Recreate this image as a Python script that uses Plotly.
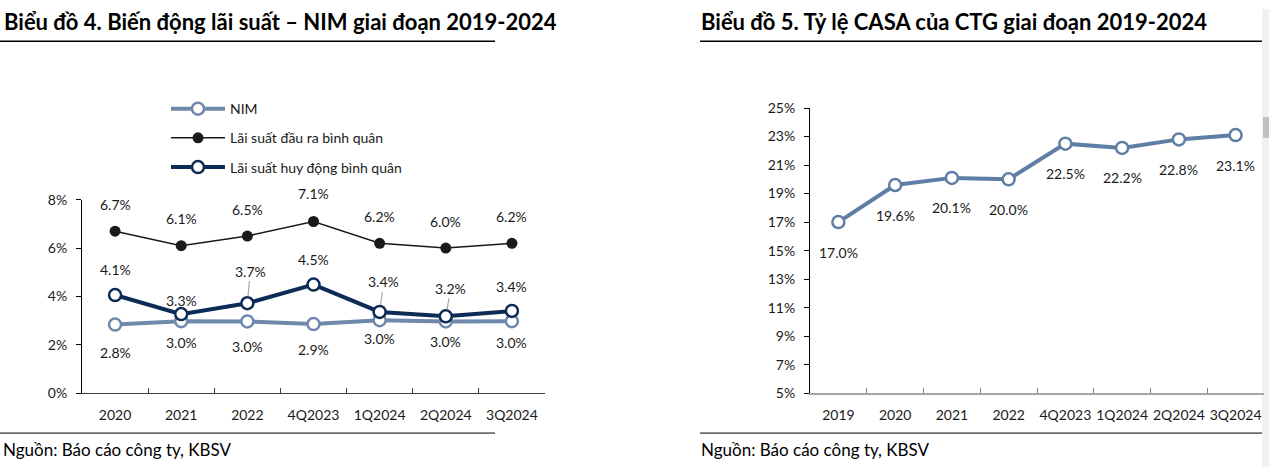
import plotly.graph_objects as go

W, H = 1269, 475

# ---------------- data ----------------
left_categories = ["2020", "2021", "2022", "4Q2023", "1Q2024", "2Q2024", "3Q2024"]
nim = [2.84, 2.98, 2.97, 2.86, 3.02, 2.97, 2.98]
lending_rate = [6.7, 6.1, 6.5, 7.1, 6.2, 6.0, 6.2]
deposit_rate = [4.06, 3.27, 3.72, 4.49, 3.36, 3.18, 3.40]

right_categories = ["2019", "2020", "2021", "2022", "4Q2023", "1Q2024", "2Q2024", "3Q2024"]
casa = [17.0, 19.6, 20.1, 20.0, 22.5, 22.2, 22.8, 23.1]

left_yticks = [0, 2, 4, 6, 8]
right_yticks = [5, 7, 9, 11, 13, 15, 17, 19, 21, 23, 25]

# label offsets (px, positive = up) – styling only
nim_dy = [-27, -21, -24, -25, -18, -19, -21]
lend_dy = [26, 26, 26, 27, 26, 26, 26]
dep_dy = [25, 13, 31, 24, 29, 27, 24]
dep_leader = [False, False, True, False, True, True, False]
dep_leader_dx = [0, 0, -3, 0, -4, -5, 0]

# ---------------- style ----------------
FONT = "Lato"
C_NIM = "#6f89ad"
C_LEND = "#1a1a1a"
C_DEP = "#0c2c55"
C_CASA = "#5f7ea5"
TXT = "#1a1a1a"

# vertical calibration of the captured page (observed: shown = 7.7 + 0.967 * figure px)
VS, VOFF = 0.967, 7.7


def X(px):
    return px / W


def Y(py):
    return 1 - ((py - VOFF) / VS) / H


def D(dy):
    return dy / VS


fig = go.Figure()

fig.add_trace(go.Scatter(
    x=left_categories, y=nim, name="NIM", mode="lines+markers",
    line=dict(color=C_NIM, width=4),
    marker=dict(size=12, color="white", line=dict(color=C_NIM, width=2.5)),
    xaxis="x", yaxis="y", legendgroup="a"))
fig.add_trace(go.Scatter(
    x=left_categories, y=lending_rate, name="Lãi suất đầu ra bình quân", mode="lines+markers",
    line=dict(color=C_LEND, width=1.5),
    marker=dict(size=11, color=C_LEND, line=dict(color=C_LEND, width=0)),
    xaxis="x", yaxis="y", legendgroup="b"))
fig.add_trace(go.Scatter(
    x=left_categories, y=deposit_rate, name="Lãi suất huy động bình quân", mode="lines+markers",
    line=dict(color=C_DEP, width=4),
    marker=dict(size=12, color="white", line=dict(color=C_DEP, width=2.5)),
    xaxis="x", yaxis="y", legendgroup="c"))

fig.add_trace(go.Scatter(
    x=right_categories, y=casa, name="CASA", mode="lines+markers",
    line=dict(color=C_CASA, width=4),
    marker=dict(size=12, color="white", line=dict(color=C_CASA, width=2.5)),
    xaxis="x2", yaxis="y2", showlegend=False))

annotations = []
lab_font = dict(family=FONT, size=14, color=TXT)

for i, (v, dy) in enumerate(zip(nim, nim_dy)):
    annotations.append(dict(x=i, y=v, xref="x", yref="y", text=f"{v:.1f}%",
                            showarrow=False, yshift=D(dy), font=lab_font))
for i, (v, dy) in enumerate(zip(lending_rate, lend_dy)):
    annotations.append(dict(x=i, y=v, xref="x", yref="y", text=f"{v:.1f}%",
                            showarrow=False, yshift=D(dy), font=lab_font))
for i, (v, dy, ld, ldx) in enumerate(zip(deposit_rate, dep_dy, dep_leader, dep_leader_dx)):
    if ld:
        annotations.append(dict(x=i, y=v, xref="x", yref="y", text=f"{v:.1f}%",
                                showarrow=True, arrowhead=0, arrowwidth=1.2,
                                arrowcolor="#a6a6a6", ax=-ldx, ay=-D(dy), standoff=7,
                                font=lab_font))
    else:
        annotations.append(dict(x=i, y=v, xref="x", yref="y", text=f"{v:.1f}%",
                                showarrow=False, yshift=D(dy), font=lab_font))
for i, v in enumerate(casa):
    annotations.append(dict(x=i, y=v, xref="x2", yref="y2", text=f"{v:.1f}%",
                            showarrow=False, yshift=D(-29), font=lab_font))

# titles & sources
annotations += [
    dict(x=X(2), y=Y(20), xref="paper", yref="paper", xanchor="left", yanchor="middle",
         text="<b>Biểu đồ 4. Biến động lãi suất – NIM giai đoạn 2019-2024</b>", showarrow=False,
         font=dict(family=FONT, size=22, color="#000000")),
    dict(x=X(699), y=Y(20), xref="paper", yref="paper", xanchor="left", yanchor="middle",
         text="<b>Biểu đồ 5. Tỷ lệ CASA của CTG giai đoạn 2019-2024</b>", showarrow=False,
         font=dict(family=FONT, size=22, color="#000000")),
    dict(x=X(1), y=Y(449), xref="paper", yref="paper", xanchor="left", yanchor="middle",
         text="Nguồn: Báo cáo công ty, KBSV", showarrow=False,
         font=dict(family=FONT, size=17, color="#000000")),
    dict(x=X(699), y=Y(449), xref="paper", yref="paper", xanchor="left", yanchor="middle",
         text="Nguồn: Báo cáo công ty, KBSV", showarrow=False,
         font=dict(family=FONT, size=17, color="#000000")),
]

shapes = [
    dict(type="line", xref="paper", yref="paper", x0=X(0), x1=X(495), y0=Y(40), y1=Y(40),
         line=dict(color="#000000", width=1.5)),
    dict(type="line", xref="paper", yref="paper", x0=X(700), x1=X(1262), y0=Y(40), y1=Y(40),
         line=dict(color="#000000", width=1.5)),
    dict(type="line", xref="paper", yref="paper", x0=X(0), x1=X(495), y0=Y(433), y1=Y(433),
         line=dict(color="#000000", width=1)),
    dict(type="line", xref="paper", yref="paper", x0=X(700), x1=X(1262), y0=Y(433), y1=Y(433),
         line=dict(color="#000000", width=1)),
    # browser scrollbar strip seen at the right edge of the reference
    dict(type="rect", xref="paper", yref="paper", x0=X(1262), x1=X(1269), y0=0, y1=1,
         fillcolor="#f1f1f1", line=dict(width=0), layer="below"),
    dict(type="rect", xref="paper", yref="paper", x0=X(1263), x1=X(1269), y0=Y(137), y1=Y(116),
         fillcolor="#c1c1c1", line=dict(width=0)),
]

tick_font = dict(family=FONT, size=14, color=TXT)

fig.update_layout(
    width=W, height=H, margin=dict(l=0, r=0, t=0, b=0),
    paper_bgcolor="white", plot_bgcolor="rgba(0,0,0,0)",
    showlegend=True,
    legend=dict(x=X(166), y=Y(92), xanchor="left", yanchor="top",
                font=dict(family=FONT, size=14, color=TXT),
                bgcolor="rgba(0,0,0,0)", itemwidth=54, tracegroupgap=8,
                traceorder="grouped"),
    xaxis=dict(domain=[X(82), X(545)], type="category", range=[-0.5, len(left_categories) - 0.5],
               showline=True, linecolor="#404040", linewidth=1, ticks="inside", ticklen=5,
               tickcolor="#404040", tickson="boundaries", showgrid=False, zeroline=False,
               tickfont=tick_font, anchor="y", tickangle=0, ticklabelstandoff=9),
    yaxis=dict(domain=[Y(393), Y(199)], range=[0, 8], tickvals=left_yticks,
               ticktext=[f"{t}%" for t in left_yticks],
               showline=True, linecolor="#000000", linewidth=1, ticks="outside", ticklen=5,
               tickcolor="#000000", showgrid=False, zeroline=False, tickfont=tick_font,
               anchor="x", ticklabelstandoff=6),
    xaxis2=dict(domain=[X(810), X(1264)], type="category", range=[-0.5, len(right_categories) - 0.5],
                showline=True, linecolor="#a6a6a6", linewidth=2, ticks="inside", ticklen=5,
                tickcolor="#7f7f7f", tickson="boundaries", showgrid=False, zeroline=False,
                tickfont=tick_font, anchor="y2", tickangle=0, ticklabelstandoff=8),
    yaxis2=dict(domain=[Y(393), Y(107)], range=[5, 25], tickvals=right_yticks,
                ticktext=[f"{t}%" for t in right_yticks],
                showline=True, linecolor="#000000", linewidth=1, ticks="outside", ticklen=5,
                tickcolor="#000000", showgrid=False, zeroline=False, tickfont=tick_font,
                anchor="x2", ticklabelstandoff=6),
    annotations=annotations,
    shapes=shapes,
)

fig.write_html("out.html")
